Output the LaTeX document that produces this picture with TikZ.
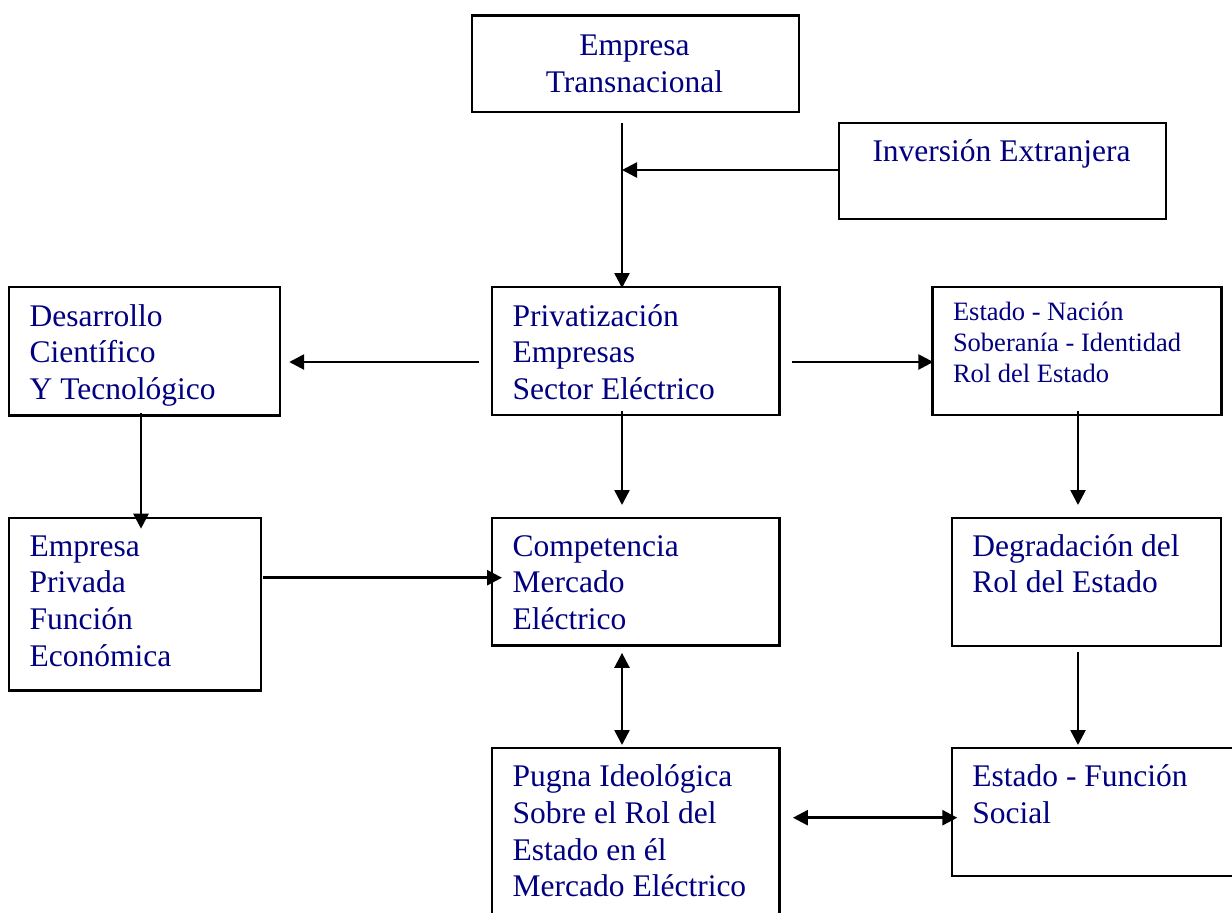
\documentclass[tikz,border=0pt]{standalone}
\usepackage{fontspec}
\setmainfont{Liberation Serif}
\usetikzlibrary{arrows.meta,calc}
\definecolor{navytext}{RGB}{0,0,128}

\begin{document}
\begin{tikzpicture}[x=1pt,y=-1pt,
    box/.style={draw,line width=2.2pt,anchor=north west,inner sep=0pt},
    txt/.style={anchor=base west,align=left,inner sep=0pt,text=navytext,font=\fontsize{31.5}{36.7}\selectfont},
    small/.style={txt,font=\fontsize{26.5}{31}\selectfont},
    arr/.style={line width=2.6pt,-{Triangle[length=15pt,width=15pt]}},
    darr/.style={line width=2.6pt,{Triangle[length=15pt,width=15pt]}-{Triangle[length=15pt,width=15pt]}}]
    \useasboundingbox (0,0) rectangle (1232,913);
    \clip (0,0) rectangle (1232,913);

    % Boxes
    \node[box,minimum width=327pt,minimum height=96.4pt] (trans) at (471,14.3) {};
    \node[box,minimum width=327pt,minimum height=95.7pt] (inv) at (838,122) {};
    \node[box,minimum width=271pt,minimum height=128.3pt] (desa) at (8,286) {};
    \node[box,minimum width=287.3pt,minimum height=128pt] (priv) at (491,286) {};
    \node[box,minimum width=289pt,minimum height=128pt] (nacion) at (931.3,286) {};
    \node[box,minimum width=252pt,minimum height=172.6pt] (emp) at (8,516.7) {};
    \node[box,minimum width=287.3pt,minimum height=127.6pt] (comp) at (491,516.7) {};
    \node[box,minimum width=269.3pt,minimum height=128.3pt] (degr) at (950.7,516.7) {};
    \node[box,minimum width=287.3pt,minimum height=200pt] (pugna) at (491,746.7) {};
    \node[box,minimum width=300pt,minimum height=128.3pt] (func) at (950.7,746.7) {};

    % Texts (placed by the baseline of their last line)
    \node[txt,anchor=base,align=center] (trans-t) at (634.5,92) {Empresa\\Transnacional};
    \node[txt,anchor=base,align=center] (inv-t) at (1001.5,161.7) {Inversión Extranjera};
    \node[txt] (desa-t) at ($(desa.north west)+(21.5,113.4)$) {Desarrollo\\Científico\\Y Tecnológico};
    \node[txt] (priv-t) at ($(priv.north west)+(21.5,113.4)$) {Privatización\\Empresas\\Sector Eléctrico};
    \node[small] (nacion-t) at ($(nacion.north west)+(21.5,96.7)$) {Estado - Nación\\Soberanía - Identidad\\Rol del Estado};
    \node[txt] (emp-t) at ($(emp.north west)+(21.5,149.4)$) {Empresa\\Privada\\Función\\Económica};
    \node[txt] (comp-t) at ($(comp.north west)+(21.5,112.7)$) {Competencia\\Mercado\\Eléctrico};
    \node[txt] (degr-t) at ($(degr.north west)+(21.5,76)$) {Degradación del\\Rol del Estado};
    \node[txt] (pugna-t) at ($(pugna.north west)+(21.5,150.1)$) {Pugna Ideológica\\Sobre el Rol del\\Estado en él\\Mercado Eléctrico};
    \node[txt] (func-t) at ($(func.north west)+(21.5,76.7)$) {Estado - Función\\Social};

    % Columns and rows of the connectors
    \coordinate (c1) at (141,0);
    \coordinate (c2) at (622,0);
    \coordinate (c3) at (1078,0);
    \coordinate (r1) at (0,170);
    \coordinate (r2) at (0,362);
    \coordinate (r3) at (0,577.7);
    \coordinate (r4) at (0,817.7);
    \coordinate (join) at (622,170);

    % Connectors
    \draw[arr,shorten <=10pt,shorten >=-2pt] (trans.south -| c2) -- (priv.north -| c2);
    \draw[arr] (inv.west |- r1) -- (join);
    \draw[arr,shorten <=12pt,shorten >=8pt] (priv.west |- r2) -- (desa.east |- r2);
    \draw[arr,shorten <=11pt,shorten >=-2pt] (priv.east |- r2) -- (nacion.west |- r2);
    \draw[arr,shorten <=-5pt,shorten >=11.7pt] (priv.south -| c2) -- (comp.north -| c2);
    \draw[arr,shorten <=-4pt,shorten >=-12pt] (desa.south -| c1) -- (emp.north -| c1);
    \draw[arr,shorten <=1pt,shorten >=-11pt] (emp.east |- r3) -- (comp.west |- r3);
    \draw[arr,shorten <=-5pt,shorten >=11.7pt] (nacion.south -| c3) -- (degr.north -| c3);
    \draw[arr,shorten <=4.3pt,shorten >=1.7pt] (degr.south -| c3) -- (func.north -| c3);
    \draw[darr,shorten <=6.4pt,shorten >=1.7pt] (comp.south -| c2) -- (pugna.north -| c2);
    \draw[darr,shorten <=12.4pt,shorten >=-6.6pt] (pugna.east |- r4) -- (func.west |- r4);
\end{tikzpicture}
\end{document}
